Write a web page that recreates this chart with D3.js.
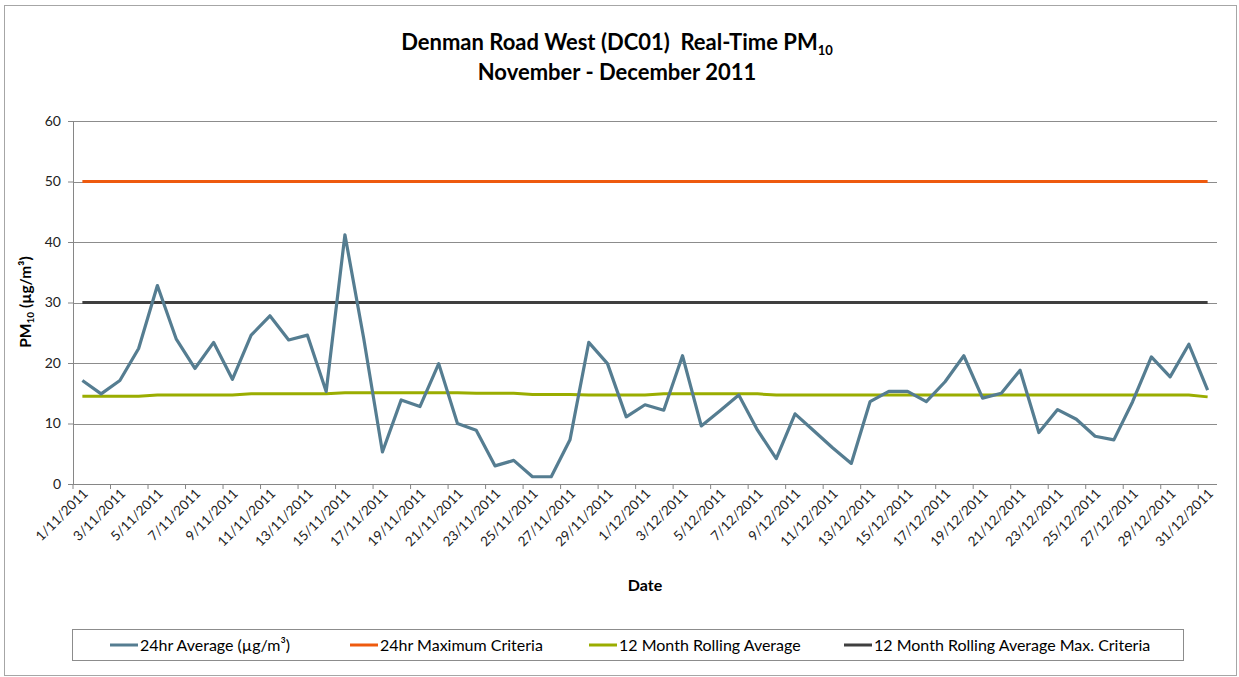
<!DOCTYPE html>
<html>
<head>
<meta charset="utf-8">
<script src="https://cdn.jsdelivr.net/npm/d3@7/dist/d3.min.js"></script>
<style>
  body { margin: 0; background: white; }
  svg text { font-family: Lato, "Open Sans", sans-serif; fill: #000; }
  .axis path, .axis line { stroke: #868686; }
  .axis text { fill: #222; }
</style>
</head>
<body>
<script>
// categories: daily dates, Nov - Dec 2011
var dates = [
  "1/11/2011","2/11/2011","3/11/2011","4/11/2011","5/11/2011","6/11/2011","7/11/2011","8/11/2011","9/11/2011","10/11/2011",
  "11/11/2011","12/11/2011","13/11/2011","14/11/2011","15/11/2011","16/11/2011","17/11/2011","18/11/2011","19/11/2011","20/11/2011",
  "21/11/2011","22/11/2011","23/11/2011","24/11/2011","25/11/2011","26/11/2011","27/11/2011","28/11/2011","29/11/2011","30/11/2011",
  "1/12/2011","2/12/2011","3/12/2011","4/12/2011","5/12/2011","6/12/2011","7/12/2011","8/12/2011","9/12/2011","10/12/2011",
  "11/12/2011","12/12/2011","13/12/2011","14/12/2011","15/12/2011","16/12/2011","17/12/2011","18/12/2011","19/12/2011","20/12/2011",
  "21/12/2011","22/12/2011","23/12/2011","24/12/2011","25/12/2011","26/12/2011","27/12/2011","28/12/2011","29/12/2011","30/12/2011",
  "31/12/2011"
];

// 24hr average PM10 (ug/m3)
var pm10_24hr = [
  17.1, 14.9, 17.1, 22.4, 32.8, 24.0, 19.1, 23.4, 17.3, 24.6,
  27.8, 23.8, 24.6, 15.3, 41.2, 24.1, 5.3, 13.9, 12.8, 19.9,
  10.0, 8.9, 3.0, 3.9, 1.2, 1.2, 7.3, 23.4, 19.9, 11.1,
  13.1, 12.2, 21.2, 9.6, 12.1, 14.7, 8.9, 4.2, 11.6, 8.8,
  6.0, 3.4, 13.6, 15.3, 15.3, 13.6, 16.9, 21.2, 14.2, 15.0,
  18.8, 8.5, 12.3, 10.7, 7.9, 7.3, 13.6, 21.0, 17.7, 23.1,
  15.5
];

// 12 month rolling average
var rolling12 = [
  14.5, 14.5, 14.5, 14.5, 14.7, 14.7, 14.7, 14.7, 14.7, 14.9,
  14.9, 14.9, 14.9, 14.9, 15.1, 15.1, 15.1, 15.1, 15.1, 15.1,
  15.1, 15.0, 15.0, 15.0, 14.8, 14.8, 14.8, 14.7, 14.7, 14.7,
  14.7, 14.9, 14.9, 14.9, 14.9, 14.9, 14.9, 14.7, 14.7, 14.7,
  14.7, 14.7, 14.7, 14.7, 14.7, 14.7, 14.7, 14.7, 14.7, 14.7,
  14.7, 14.7, 14.7, 14.7, 14.7, 14.7, 14.7, 14.7, 14.7, 14.7,
  14.4
];

var maxCriteria24hr = 50;
var rollingMaxCriteria = 30;
var yTicks = [0, 10, 20, 30, 40, 50, 60];

var legendNames = ["24hr Average (\u00b5g/m\u00b3)", "24hr Maximum Criteria", "12 Month Rolling Average", "12 Month Rolling Average Max. Criteria"];
var colors = ["#557d91", "#ee5a0e", "#9aad00", "#3f3f3f"];

var width = 1239, height = 677;
var plotLeft = 73, plotRight = 1217, plotTop = 121, plotBottom = 484;

var svg = d3.select("body").append("svg")
    .attr("width", width)
    .attr("height", height);

svg.append("rect")
    .attr("x", 4.5).attr("y", 5.5)
    .attr("width", 1232).attr("height", 670)
    .attr("fill", "white")
    .attr("stroke", "#a6a6a6");

var x = d3.scaleBand().domain(dates).range([plotLeft, plotRight]);
var y = d3.scaleLinear().domain([0, 60]).range([plotBottom, plotTop]);
var bw = x.bandwidth();
var cx = function(d){ return x(d) + bw / 2; };

// gridlines
svg.append("g").selectAll("line").data(yTicks.slice(1)).enter().append("line")
    .attr("x1", plotLeft).attr("x2", plotRight)
    .attr("y1", function(d){ return Math.round(y(d)) + 0.5; })
    .attr("y2", function(d){ return Math.round(y(d)) + 0.5; })
    .attr("stroke", "#8c8c8c");

// y axis
var yAxis = svg.append("g")
    .attr("class", "axis")
    .attr("transform", "translate(" + plotLeft + ",0)")
    .call(d3.axisLeft(y).tickValues(yTicks).tickSize(5).tickPadding(7));
yAxis.select(".domain").attr("d", "M0.5," + plotTop + "V" + plotBottom);
yAxis.selectAll(".tick text").style("font-size", "14px");

// x axis
var xAxis = svg.append("g")
    .attr("class", "axis")
    .attr("transform", "translate(0," + plotBottom + ")")
    .call(d3.axisBottom(x).tickValues(dates.filter(function(d, i){ return i % 2 == 0; })).tickSize(5).tickSizeOuter(0));
xAxis.select(".domain").attr("d", "M" + plotLeft + ",0.5H" + plotRight);
xAxis.selectAll(".tick line")
    .attr("x1", -bw / 2).attr("x2", -bw / 2);
xAxis.selectAll(".tick text")
    .style("font-size", "13.5px")
    .attr("text-anchor", "end")
    .attr("transform", "translate(3,7) rotate(-45)")
    .attr("dy", "0.35em")
    .attr("y", 0);

// series
var line = d3.line()
    .x(function(d, i){ return cx(dates[i]); })
    .y(function(d){ return y(d); });

svg.append("path")
    .datum(dates.map(function(){ return maxCriteria24hr; }))
    .attr("d", line)
    .attr("fill", "none").attr("stroke", colors[1]).attr("stroke-width", 3);

svg.append("path")
    .datum(dates.map(function(){ return rollingMaxCriteria; }))
    .attr("d", line)
    .attr("fill", "none").attr("stroke", colors[3]).attr("stroke-width", 3);

svg.append("path")
    .datum(rolling12)
    .attr("d", line)
    .attr("fill", "none").attr("stroke", colors[2]).attr("stroke-width", 3);

svg.append("path")
    .datum(pm10_24hr)
    .attr("d", line)
    .attr("fill", "none").attr("stroke", colors[0]).attr("stroke-width", 3.2)
    .attr("stroke-linejoin", "round");

// titles
var title = svg.append("text")
    .attr("x", 617).attr("y", 50)
    .attr("text-anchor", "middle")
    .style("font-size", "22px").style("font-weight", "bold");
title.append("tspan").text("Denman Road West (DC01)\u00a0\u00a0Real-Time PM");
title.append("tspan").attr("dy", 5).style("font-size", "13px").text("10");

svg.append("text")
    .attr("x", 617).attr("y", 80)
    .attr("text-anchor", "middle")
    .style("font-size", "22px").style("font-weight", "bold")
    .text("November - December 2011");

var ylab = svg.append("text")
    .attr("transform", "translate(31,302) rotate(-90)")
    .attr("text-anchor", "middle")
    .style("font-size", "15.5px").style("font-weight", "bold");
ylab.append("tspan").text("PM");
ylab.append("tspan").attr("dy", 3).style("font-size", "10px").text("10");
ylab.append("tspan").attr("dy", -3).text(" (\u00b5g/m\u00b3)");

svg.append("text")
    .attr("x", 645).attr("y", 591)
    .attr("text-anchor", "middle")
    .style("font-size", "16px").style("font-weight", "bold")
    .text("Date");

// legend
svg.append("rect")
    .attr("x", 72.5).attr("y", 629.5)
    .attr("width", 1111).attr("height", 31)
    .attr("fill", "white").attr("stroke", "#8c8c8c");

var legendX = [110, 350, 589, 844];
var items = svg.append("g").selectAll("g").data(legendNames).enter().append("g")
    .attr("transform", function(d, i){ return "translate(" + legendX[i] + ",645)"; });
items.append("line")
    .attr("x1", 0).attr("x2", 28)
    .attr("stroke", function(d, i){ return colors[i]; })
    .attr("stroke-width", 3);
items.append("text")
    .attr("x", 30).attr("dy", "0.35em")
    .style("font-size", "16px")
    .text(function(d){ return d; });
</script>
</body>
</html>
